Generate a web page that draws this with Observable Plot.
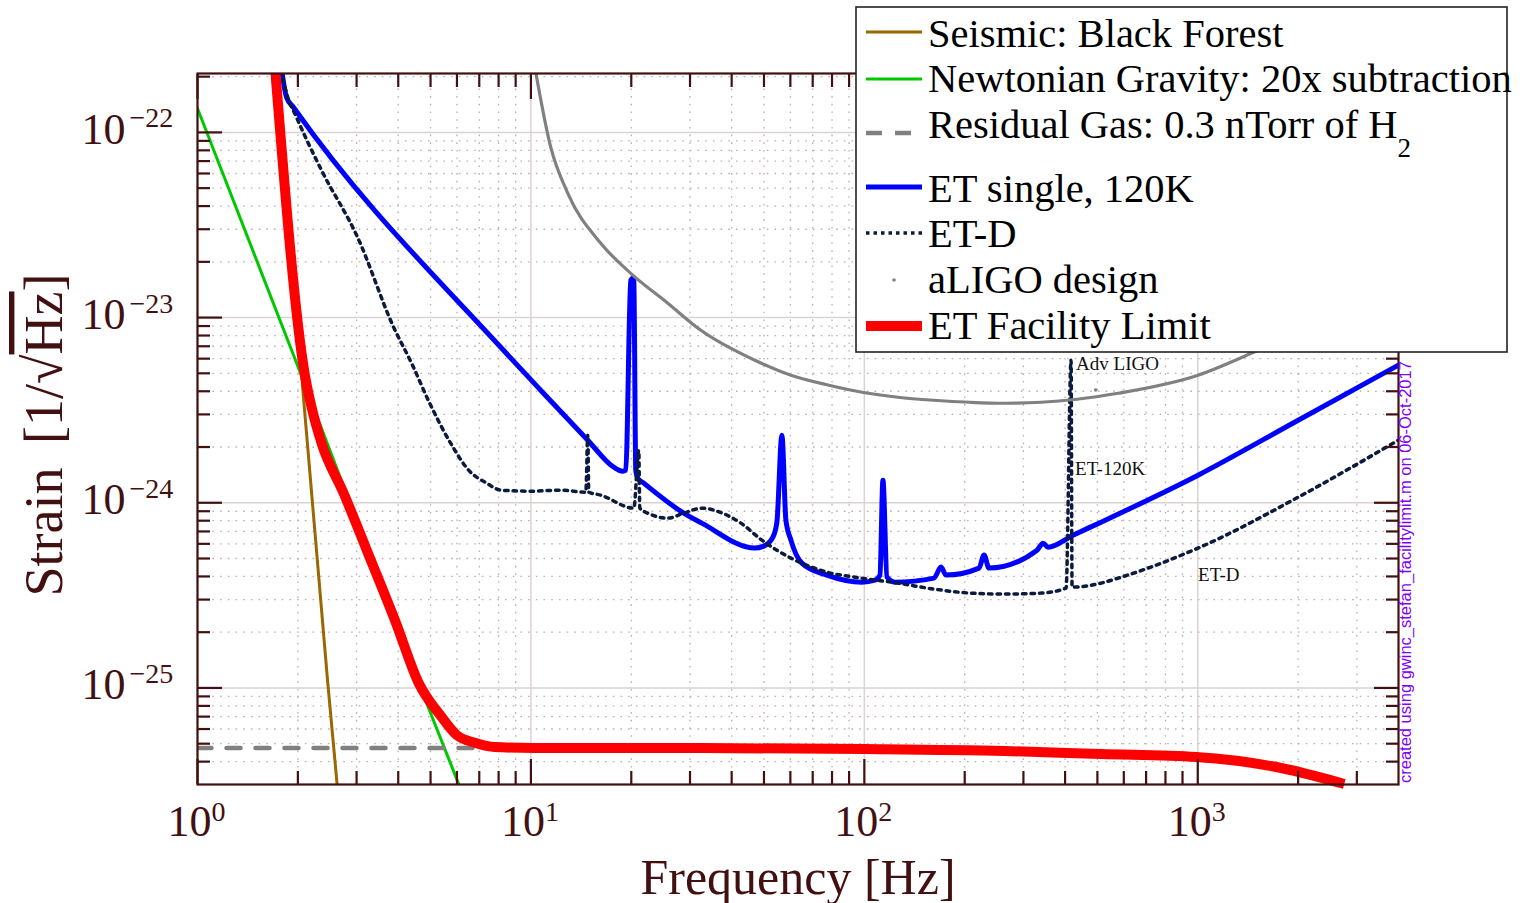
<!DOCTYPE html>
<html><head><meta charset="utf-8">
<script src="https://cdn.jsdelivr.net/npm/d3@7"></script>
<script src="https://cdn.jsdelivr.net/npm/@observablehq/plot@0.6"></script>
<style>
html,body{margin:0;padding:0;background:#fff;}
#wrap{position:relative;width:1533px;height:903px;overflow:hidden;}
#overlay{position:absolute;left:0;top:0;pointer-events:none;}
</style></head><body><div id="wrap"></div>
<script>
// ---- axis ticks ----
const xMajor = [1, 10, 100, 1000];
const xMinor = [2,3,4,5,6,7,8,9,20,30,40,50,60,70,80,90,200,300,400,500,600,700,800,900,2000,3000];
const xTickExp = ["0", "1", "2", "3"];
const yMajor = [1e-25, 1e-24, 1e-23, 1e-22];
const yMinor = [4e-26,5e-26,6e-26,7e-26,8e-26,9e-26,2e-25,3e-25,4e-25,5e-25,6e-25,7e-25,8e-25,9e-25,
  2e-24,3e-24,4e-24,5e-24,6e-24,7e-24,8e-24,9e-24,2e-23,3e-23,4e-23,5e-23,6e-23,7e-23,8e-23,9e-23,2e-22];
const yTickExp = ["\u221225", "\u221224", "\u221223", "\u221222"];

// ---- series (frequency Hz, strain 1/sqrt(Hz)) ----
const seismicF = [1.691, 2.051, 2.456, 2.632];
const seismicH = [2.30e-22, 4.943e-24, 1.089e-25, 2.81e-26];

const newtonF = [1, 1.968, 4.606, 6.072];
const newtonH = [1.347e-22, 5.884e-24, 1.063e-25, 3.03e-26];

const gasF = [1, 10.19, 100.4, 264.2, 512.9, 988.7, 1779, 2750];
const gasH = [4.74e-26, 4.74e-26, 4.68e-26, 4.565e-26, 4.397e-26, 4.236e-26, 3.695e-26, 3.03e-26];

const etF = [1.775, 1.850, 1.942, 8.118, 10.70, 14.81, 17.72, 18.86, 19.25, 19.93, 20.21, 20.35, 20.63, 20.92, 21.80,
  28.74, 32.55, 46.95, 49.95, 53.18, 54.67, 56.59, 58.18, 60.22, 64.97, 77.22, 98.35, 107.6, 111.4, 113.7, 116.9,
  123.5, 161.8, 169.8, 175.8, 220.8, 228.6, 236.6, 329.6, 343.6, 355.6, 422.7, 512.9, 1002, 2001, 3995];
const etH = [2.385e-22, 1.545e-22, 1.364e-22, 6.913e-24, 4.052e-24, 2.177e-24, 1.556e-24, 1.481e-24, 1.499e-24, 1.589e-23, 1.63e-23, 1.589e-23, 1.499e-24, 1.357e-24, 1.276e-24,
  8.788e-25, 7.759e-25, 5.689e-25, 5.834e-25, 6.52e-25, 7.856e-25, 2.316e-24, 8.05e-25, 6.284e-25, 4.72e-25, 4.068e-25, 3.727e-25, 3.821e-25, 4.07e-25, 1.324e-24, 3.97e-25,
  3.727e-25, 3.917e-25, 4.493e-25, 4.068e-25, 4.437e-25, 5.215e-25, 4.437e-25, 5.549e-25, 6.053e-25, 5.76e-25, 6.685e-25, 7.856e-25, 1.409e-24, 2.791e-24, 5.53e-24];

const etdF = [1.762, 1.850, 1.982, 2.356, 3.021, 3.875, 4.387, 4.970, 5.745, 6.505, 7.368, 8.118, 9.917, 12.29, 14.61, 14.81, 14.91,
  16.20, 20.35, 21.06, 21.21, 22.41, 25.74, 28.74, 32.55, 36.87, 42.64, 49.28, 60.22, 77.22, 98.35, 126.1, 161.8, 207.5,
  264.2, 338.9, 402.7, 416.9, 419.8, 512.9, 576.9, 1002, 2001, 3995];
const etdH = [2.385e-22, 1.623e-22, 1.205e-22, 6.235e-23, 2.713e-23, 8.865e-24, 5.668e-24, 3.447e-24, 2.097e-24, 1.499e-24, 1.276e-24, 1.17e-24, 1.155e-24, 1.17e-24, 1.141e-24, 2.316e-24, 1.141e-24,
  1.099e-24, 9.35e-25, 1.922e-24, 9.35e-25, 8.788e-25, 8.258e-25, 8.788e-25, 9.35e-25, 8.898e-25, 7.759e-25, 6.284e-25, 5.023e-25, 4.22e-25, 3.917e-25, 3.681e-25, 3.418e-25, 3.252e-25,
  3.212e-25, 3.252e-25, 3.461e-25, 5.884e-24, 3.503e-25, 3.681e-25, 3.917e-25, 5.689e-25, 1.072e-24, 2.177e-24];

const aligoF = [10.19, 11.47, 12.90, 16.20, 19.93, 25.74, 32.33, 46.95, 60.22, 77.22, 98.35, 126.1, 161.8, 207.5,
  264.2, 338.9, 434.6, 576.9, 1002, 1446, 2043, 4000];
const aligoH = [2.446e-22, 8.30e-23, 4.686e-23, 2.518e-23, 1.734e-23, 1.195e-23, 8.54e-24, 5.884e-24, 4.883e-24, 4.338e-24, 3.952e-24, 3.713e-24, 3.577e-24, 3.489e-24,
  3.447e-24, 3.489e-24, 3.622e-24, 3.903e-24, 4.883e-24, 6.416e-24, 8.54e-24, 1.55e-23];
const aligoDotF = [494];
const aligoDotH = [4.06e-24];

const limitF = [1.714, 2.095, 2.198, 2.356, 2.743, 3.328, 3.929, 4.606, 5.399, 5.989, 6.83, 7.787, 10.19, 32.55, 100.4, 264.2, 512.9, 988.7, 1779, 2750];
const limitH = [2.08e-22, 5.005e-24, 3.28e-24, 2.097e-24, 1.127e-24, 4.78e-25, 2.268e-25, 1.063e-25, 6.966e-26, 5.568e-26, 5.043e-26, 4.798e-26, 4.739e-26, 4.739e-26, 4.68e-26, 4.565e-26, 4.397e-26, 4.236e-26, 3.695e-26, 3.03e-26];

// ---- annotations ----
const annotText = ["Adv LIGO", "ET-120K", "ET-D"];
const annotF = [431.6, 428.7, 1002];
const annotH = [5.194e-24, 1.409e-24, 3.774e-25];

// ---- legend ----
const legendLabels = ["Seismic: Black Forest", "Newtonian Gravity: 20x subtraction", "Residual Gas: 0.3 nTorr of H", "ET single, 120K", "ET-D", "aLIGO design", "ET Facility Limit"];
const legendColors = ["#9a6700", "#00c800", "#808080", "#0000ff", "#0b1a3d", "#808080", "#ff0000"];

const axisColor = "#421010";
const gridMajor = "#dbd2d2";
const gridMinor = "#bfaeae";
const serif = "'Liberation Serif', 'Times New Roman', serif";

const idx = a => a.map((_, i) => i);
function series(F, H, opts) {
  return Plot.line(idx(F), {x: i => F[i], y: i => H[i], strokeLinejoin: "round", ...opts});
}

const plot = Plot.plot({
  width: 1533, height: 903,
  marginLeft: 197, marginRight: 135, marginTop: 73, marginBottom: 119,
  x: {type: "log", domain: [1, 4000]},
  y: {type: "log", domain: [3.01e-26, 2.08e-22]},
  style: {background: "transparent", fontFamily: serif, overflow: "visible"},
  marks: [
    Plot.ruleX(xMinor, {x: d => d, stroke: gridMinor, strokeWidth: 1.3, strokeDasharray: "1.6,6.1"}),
    Plot.ruleY(yMinor, {y: d => d, stroke: gridMinor, strokeWidth: 1.3, strokeDasharray: "1.6,6.1"}),
    Plot.ruleX(xMajor, {x: d => d, stroke: gridMajor, strokeWidth: 1.5}),
    Plot.ruleY(yMajor, {y: d => d, stroke: gridMajor, strokeWidth: 1.5}),
    series(seismicF, seismicH, {stroke: legendColors[0], strokeWidth: 3, clip: true}),
    series(newtonF, newtonH, {stroke: legendColors[1], strokeWidth: 3, clip: true}),
    series(gasF, gasH, {stroke: legendColors[2], strokeWidth: 4.5, strokeDasharray: "14,15", clip: true}),
    series(etF, etH, {stroke: legendColors[3], strokeWidth: 5, curve: "monotone-x", clip: true}),
    series(etdF, etdH, {stroke: legendColors[4], strokeWidth: 3.5, strokeDasharray: "3.5,5", curve: "monotone-x", clip: true}),
    series(aligoF, aligoH, {stroke: legendColors[5], strokeWidth: 3.2, curve: "monotone-x", clip: true}),
    Plot.dot(idx(aligoDotF), {x: i => aligoDotF[i], y: i => aligoDotH[i], r: 1.8, fill: "#808080"}),
    series(limitF, limitH, {stroke: legendColors[6], strokeWidth: 10, curve: "monotone-x", strokeLinecap: "butt"}),
    Plot.text(idx(annotText), {x: i => annotF[i], y: i => annotH[i], text: i => annotText[i], textAnchor: "start", lineAnchor: "bottom", fontSize: 19, fill: "#111", fontFamily: serif}),
    Plot.frame({stroke: axisColor, strokeWidth: 2.2}),
    Plot.axisX({anchor: "bottom", ticks: xMajor, tickSize: -25, tickFormat: () => "", stroke: axisColor, strokeWidth: 2.2, label: null}),
    Plot.axisX({anchor: "bottom", ticks: xMinor, tickSize: -13, tickFormat: () => "", stroke: axisColor, strokeWidth: 2.2, label: null}),
    Plot.axisX({anchor: "top", ticks: xMajor, tickSize: -25, tickFormat: () => "", stroke: axisColor, strokeWidth: 2.2, label: null}),
    Plot.axisX({anchor: "top", ticks: xMinor, tickSize: -13, tickFormat: () => "", stroke: axisColor, strokeWidth: 2.2, label: null}),
    Plot.axisY({anchor: "left", ticks: yMajor, tickSize: -25, tickFormat: () => "", stroke: axisColor, strokeWidth: 2.2, label: null}),
    Plot.axisY({anchor: "left", ticks: yMinor, tickSize: -13, tickFormat: () => "", stroke: axisColor, strokeWidth: 2.2, label: null}),
    Plot.axisY({anchor: "right", ticks: yMajor, tickSize: -25, tickFormat: () => "", stroke: axisColor, strokeWidth: 2.2, label: null}),
    Plot.axisY({anchor: "right", ticks: yMinor, tickSize: -13, tickFormat: () => "", stroke: axisColor, strokeWidth: 2.2, label: null}),
    Plot.text(xMajor, {x: d => d, frameAnchor: "bottom", text: () => "10", textAnchor: "end", lineAnchor: "bottom", dx: 14, dy: 51, fontSize: 44, fill: axisColor, fontFamily: serif}),
    Plot.text(xMajor, {x: d => d, frameAnchor: "bottom", text: (d, i) => xTickExp[i], textAnchor: "start", lineAnchor: "bottom", dx: 14, dy: 36, fontSize: 28, fill: axisColor, fontFamily: serif}),
    Plot.text(yMajor, {y: d => d, frameAnchor: "left", text: () => "10", textAnchor: "end", lineAnchor: "bottom", dx: -72, dy: 11.5, fontSize: 44, fill: axisColor, fontFamily: serif}),
    Plot.text(yMajor, {y: d => d, frameAnchor: "left", text: (d, i) => yTickExp[i], textAnchor: "start", lineAnchor: "bottom", dx: -68, dy: -5, fontSize: 28, fill: axisColor, fontFamily: serif}),
    Plot.text(["Frequency [Hz]"], {frameAnchor: "bottom", text: d => d, lineAnchor: "bottom", dy: 109, fontSize: 50, fill: axisColor, fontFamily: serif})
  ]
});
document.getElementById("wrap").appendChild(plot);

// y-axis label with radical
const svgP = d3.select(plot);
const yl = svgP.append("text")
  .attr("transform", "translate(62,435) rotate(-90)")
  .attr("text-anchor", "middle")
  .attr("font-family", serif).attr("font-size", 54).attr("fill", axisColor)
  .style("word-spacing", "10px");
yl.append("tspan").text("Strain [1/\u221A");
yl.append("tspan").style("text-decoration", "overline").text("Hz");
yl.append("tspan").text("]");

// overlay: legend + caption
const ov = d3.select("#wrap").append("svg").attr("id", "overlay")
  .attr("width", 1533).attr("height", 903);

ov.append("text")
  .attr("transform", "translate(1411,783) rotate(-90)")
  .attr("font-family", "'Liberation Sans', Arial, sans-serif").attr("font-size", 16.5)
  .attr("fill", "#8000ff")
  .text("created using gwinc_stefan_facilitylimit.m on 06-Oct-2017");

ov.append("rect").attr("x", 856).attr("y", 7).attr("width", 651).attr("height", 345)
  .attr("fill", "#fff").attr("stroke", "#222").attr("stroke-width", 1.6);

const rowLineY = [32, 79, 133, 187, 233, 280, 326];
const rowBase = [47, 92, 138, 202, 247, 293, 339];
const rowWidth = [3, 3, 4.5, 5, 3.5, 0, 10];
const rowDash = [null, null, "16,13", null, "3.5,4", null, null];
legendLabels.forEach((lab, i) => {
  if (i === 5) {
    ov.append("circle").attr("cx", 894).attr("cy", rowLineY[i]).attr("r", 1.8).attr("fill", legendColors[i]);
  } else {
    ov.append("line").attr("x1", 866).attr("x2", 922).attr("y1", rowLineY[i]).attr("y2", rowLineY[i])
      .attr("stroke", legendColors[i]).attr("stroke-width", rowWidth[i])
      .attr("stroke-dasharray", rowDash[i]);
  }
  const t = ov.append("text").attr("x", 928).attr("y", rowBase[i])
    .attr("font-family", serif).attr("font-size", 40.5).attr("fill", "#000");
  t.append("tspan").text(lab);
  if (i === 2) t.append("tspan").attr("dy", 19).attr("font-size", 27).text("2");
});
</script>
</body></html>
